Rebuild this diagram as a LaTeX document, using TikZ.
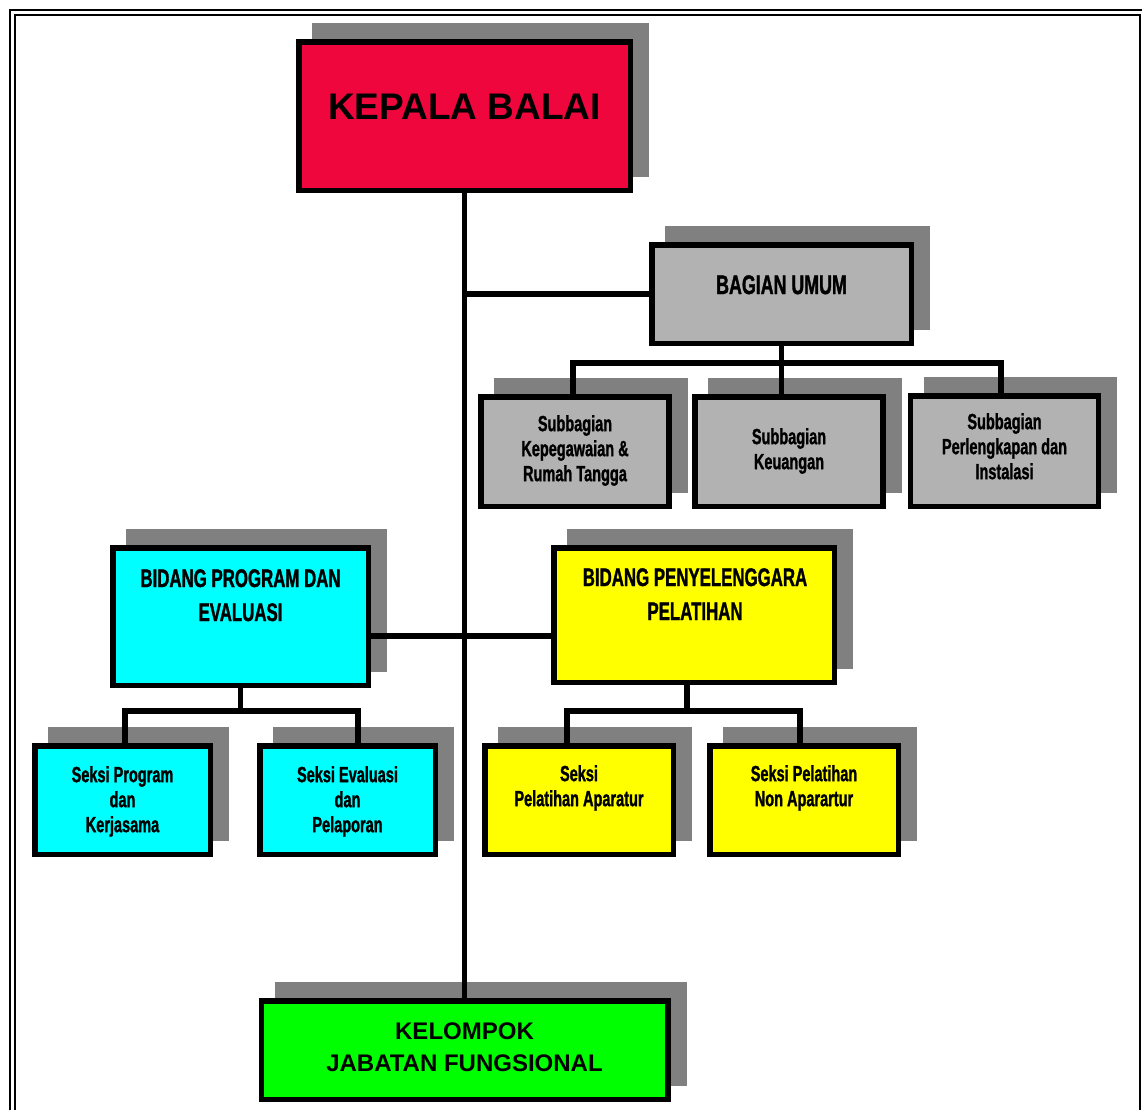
\documentclass[tikz,border=0pt]{standalone}
\usepackage{fontspec}
\setmainfont{Liberation Sans}
\newfontfamily\condfont[FakeStretch=0.66,FakeBold=1.2]{Liberation Sans}
\usetikzlibrary{backgrounds}
\definecolor{shadowgray}{RGB}{128,128,128}
\definecolor{kbred}{RGB}{238,6,60}
\definecolor{subgray}{RGB}{178,178,178}
\definecolor{cyanbox}{RGB}{0,255,255}
\definecolor{yellowbox}{RGB}{255,255,0}
\definecolor{greenbox}{RGB}{0,255,0}
\newcommand\orgshadow[1]{\fill[shadowgray] ([shift={(16,-16)}]#1.north west) rectangle ([shift={(16,-16)}]#1.south east);}
\begin{document}
\begin{tikzpicture}[x=1pt,y=-1pt,
  orgbox/.style={draw=black, line width=5.5pt, rectangle, inner sep=0pt},
  link/.style={line width=5.5pt, draw=black, line join=miter},
  boxtext/.style={anchor=north, align=center, inner sep=0pt, text=black},
  bigtext/.style={boxtext, font={\bfseries\fontsize{37}{40}\selectfont}},
  greentext/.style={boxtext, font={\bfseries\fontsize{24}{32}\selectfont}},
  headtext/.style={boxtext, font={\condfont\bfseries\fontsize{25.5}{34}\selectfont}},
  umumtext/.style={boxtext, font={\condfont\bfseries\fontsize{27}{34}\selectfont}},
  smalltext/.style={boxtext, font={\condfont\bfseries\fontsize{22}{25}\selectfont}},
  frameline/.style={line width=2.5pt, draw=black}]
\useasboundingbox (0,0) rectangle (1142,1109);

% boxes
\node[orgbox, fill=kbred, minimum width=331.5pt, minimum height=148.5pt] (kb) at (464.5,116) {};
\node[orgbox, fill=subgray, minimum width=259.5pt, minimum height=98.5pt] (bu) at (781.5,294) {};
\node[orgbox, fill=subgray, minimum width=188pt, minimum height=109.5pt] (sub1) at (575,451.5) {};
\node[orgbox, fill=subgray, minimum width=188pt, minimum height=109.5pt] (sub2) at (789,451.5) {};
\node[orgbox, fill=subgray, minimum width=188pt, minimum height=110.5pt] (sub3) at (1004.5,451) {};
\node[orgbox, fill=cyanbox, minimum width=255.5pt, minimum height=137.5pt] (bp) at (240.5,616.5) {};
\node[orgbox, fill=yellowbox, minimum width=280.5pt, minimum height=134.5pt] (bpp) at (694,615) {};
\node[orgbox, fill=cyanbox, minimum width=175.5pt, minimum height=108.5pt] (s1) at (122.5,800) {};
\node[orgbox, fill=cyanbox, minimum width=175.5pt, minimum height=108.5pt] (s2) at (347.5,800) {};
\node[orgbox, fill=yellowbox, minimum width=188.5pt, minimum height=108.5pt] (s3) at (579,800) {};
\node[orgbox, fill=yellowbox, minimum width=188.5pt, minimum height=108.5pt] (s4) at (804,800) {};
\node[orgbox, fill=greenbox, minimum width=406.5pt, minimum height=98.5pt] (kjf) at (464.5,1050) {};

% texts
\node[bigtext] (kbt) at (464.5,94) {KEPALA BALAI};
\node[umumtext] (but) at (781.5,275) {BAGIAN UMUM};
\node[smalltext] (sub1t) at (575,415) {Subbagian\\Kepegawaian \&\\Rumah Tangga};
\node[smalltext] (sub2t) at (789,428) {Subbagian\\Keuangan};
\node[smalltext] (sub3t) at (1004.5,413) {Subbagian\\Perlengkapan dan\\Instalasi};
\node[headtext] (bpt) at (240.5,569) {BIDANG PROGRAM DAN\\EVALUASI};
\node[headtext] (bppt) at (695,568) {BIDANG PENYELENGGARA\\PELATIHAN};
\node[smalltext] (s1t) at (122.5,766) {Seksi Program\\dan\\Kerjasama};
\node[smalltext] (s2t) at (347.5,766) {Seksi Evaluasi\\dan\\Pelaporan};
\node[smalltext] (s3t) at (579,765) {Seksi\\Pelatihan Aparatur};
\node[smalltext] (s4t) at (804,765) {Seksi Pelatihan\\Non Aparartur};
\node[greentext] (kjft) at (464.5,1023) {KELOMPOK\\JABATAN FUNGSIONAL};

% junction coordinates
\coordinate (ja1) at (573,363);
\coordinate (ja3) at (1001,363);
\coordinate (hb) at (464.5,636);
\coordinate (jb1) at (125,711);
\coordinate (jb2) at (358,711);
\coordinate (jc) at (687,711);
\coordinate (jc1) at (567,711);
\coordinate (jc2) at (800,711);

% connectors
\draw[link] (kb.south) -- (kb.south |- kjf.north);
\draw[link] (bu.west) -- (bu.west -| kb.south);
\draw[link] (ja1 |- sub1.north) -- (ja1) -- (ja3) -- (ja3 |- sub3.north);
\draw[link] (bu.south) -- (bu.south |- sub2.north);
\draw[link] (bp.east |- hb) -- (bpp.west |- hb);
\draw[link] (bp.south) -- (bp.south |- jb1);
\draw[link] (jb1 |- s1.north) -- (jb1) -- (jb2) -- (jb2 |- s2.north);
\draw[link] (jc |- bpp.south) -- (jc);
\draw[link] (jc1 |- s3.north) -- (jc1) -- (jc2) -- (jc2 |- s4.north);

\begin{scope}[on background layer]
  \fill[white] (0,0) rectangle (1142,1109);
  \orgshadow{kb}
  \orgshadow{bu}
  \orgshadow{sub1}
  \orgshadow{sub2}
  \orgshadow{sub3}
  \orgshadow{bp}
  \orgshadow{bpp}
  \orgshadow{s1}
  \orgshadow{s2}
  \orgshadow{s3}
  \orgshadow{s4}
  \orgshadow{kjf}
  \begin{scope}
    \clip (0,0) rectangle (1142,1109);
    \draw[frameline] (10,10) rectangle (1147,1116);
    \draw[frameline] (15,15) rectangle (1140,1113);
  \end{scope}
\end{scope}
\end{tikzpicture}
\end{document}
